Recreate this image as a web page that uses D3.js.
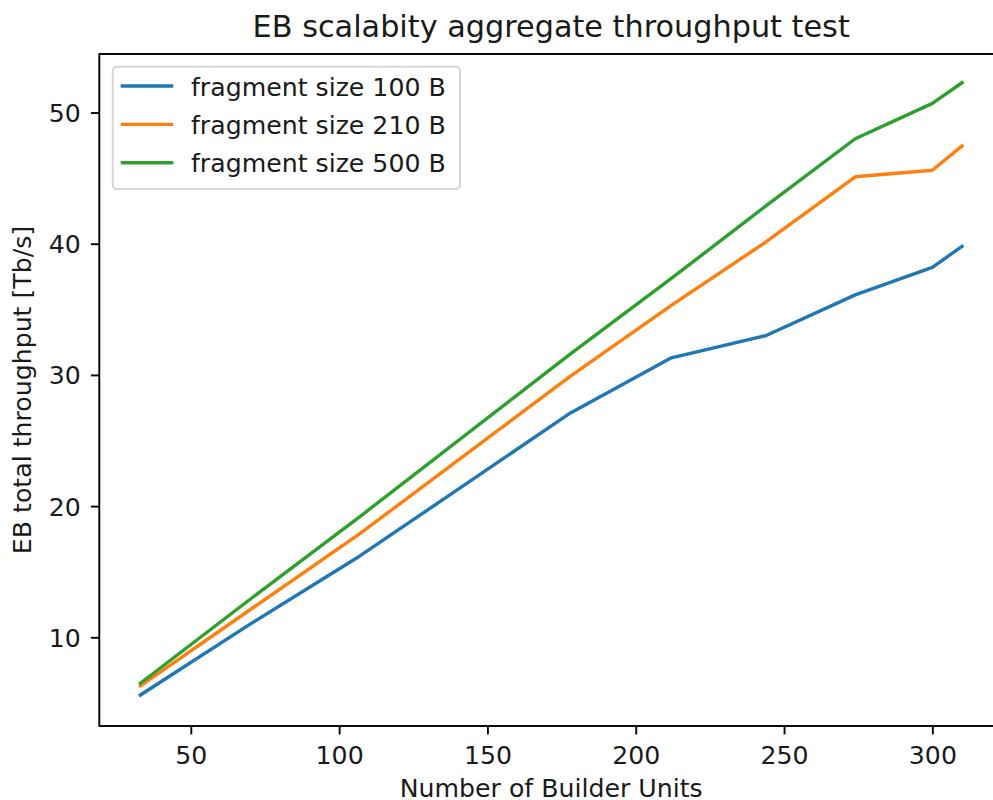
<!DOCTYPE html>
<html>
<head>
<meta charset="utf-8">
<script src="https://cdn.jsdelivr.net/npm/d3@7"></script>
<style>
  html, body { margin: 0; padding: 0; background: #fff; }
  svg { display: block; font-family: "DejaVu Sans", sans-serif; }
</style>
</head>
<body>
<svg id="chart" width="993" height="800"></svg>
<script>
// ---- data ----
const builderUnits = [33, 70, 107, 178, 212, 244, 274, 300, 310];
const frag100 = [5.6, 11.0, 16.2, 27.1, 31.3, 33.0, 36.1, 38.2, 39.8];
const frag210 = [6.3, 12.1, 17.9, 29.9, 35.3, 40.15, 45.1, 45.6, 47.45];
const frag500 = [6.5, 12.9, 19.2, 31.6, 37.35, 42.9, 48.0, 50.7, 52.27];
const seriesNames = ["fragment size 100 B", "fragment size 210 B", "fragment size 500 B"];
const xTicks = [50, 100, 150, 200, 250, 300];
const yTicks = [10, 20, 30, 40, 50];
const titleText = "EB scalabity aggregate throughput test";
const xLabel = "Number of Builder Units";
const yLabel = "EB total throughput [Tb/s]";

const colors = ["#1f77b4", "#ff7f0e", "#2ca02c"];
const series = [frag100, frag210, frag500];

// ---- layout ----
const L = 99.3, R = 1003.1, T = 54, B = 726;
const FS = 25.2;
const svg = d3.select("#chart");

const x = d3.scaleLinear().domain([19.15, 323.85]).range([L, R]);
const y = d3.scaleLinear().domain([3.24, 54.46]).range([B, T]);

// lines
const line = d3.line().x((d, i) => x(builderUnits[i])).y(d => y(d));
series.forEach((s, k) => {
  svg.append("path")
    .attr("d", line(s))
    .attr("fill", "none")
    .attr("stroke", colors[k])
    .attr("stroke-width", 3.4)
    .attr("stroke-linejoin", "round")
    .attr("stroke-linecap", "square");
});

// axes
const xAxis = d3.axisBottom(x).tickValues(xTicks).tickSize(8.4).tickPadding(6).tickFormat(d3.format("d"));
const yAxis = d3.axisLeft(y).tickValues(yTicks).tickSize(8.4).tickPadding(10).tickFormat(d3.format("d"));

const gx = svg.append("g").attr("transform", `translate(0,${B})`).call(xAxis);
const gy = svg.append("g").attr("transform", `translate(${L},0)`).call(yAxis);
[gx, gy].forEach(g => {
  g.select(".domain").remove();
  g.selectAll(".tick line").attr("stroke", "#000").attr("stroke-width", 1.9);
  g.selectAll(".tick text").attr("fill", "#1a1a1a").style("font-size", FS + "px").style("font-family", "DejaVu Sans");
});
gx.selectAll(".tick text").attr("dy", null).attr("y", 0)
  .attr("transform", "translate(0,37.5)");
gy.selectAll(".tick text").attr("dy", "0.36em");

// spines (frame)
svg.append("rect")
  .attr("x", L).attr("y", T).attr("width", R - L).attr("height", B - T)
  .attr("fill", "none").attr("stroke", "#000").attr("stroke-width", 1.9);

// title & labels
svg.append("text").attr("x", (L + R) / 2).attr("y", 37)
  .attr("text-anchor", "middle").attr("fill", "#1a1a1a")
  .style("font-size", "30.3px").text(titleText);
svg.append("text").attr("x", (L + R) / 2).attr("y", 797)
  .attr("text-anchor", "middle").attr("fill", "#1a1a1a")
  .style("font-size", FS + "px").text(xLabel);
svg.append("text").attr("transform", `translate(31,${(T + B) / 2}) rotate(-90)`)
  .attr("text-anchor", "middle").attr("fill", "#1a1a1a")
  .style("font-size", FS + "px").text(yLabel);

// legend
const lg = svg.append("g");
lg.append("rect").attr("x", 112.7).attr("y", 66.7).attr("width", 347.3).attr("height", 122.3)
  .attr("rx", 4).attr("fill", "#fff").attr("fill-opacity", 0.8)
  .attr("stroke", "#d6d6d6").attr("stroke-width", 1.9);
seriesNames.forEach((name, k) => {
  const cy = 86 + k * 38.35;
  lg.append("line").attr("x1", 120.7).attr("x2", 173.3).attr("y1", cy).attr("y2", cy)
    .attr("stroke", colors[k]).attr("stroke-width", 3.4);
  lg.append("text").attr("x", 191).attr("y", cy + 9.5)
    .attr("fill", "#1a1a1a").style("font-size", FS + "px").text(name);
});
</script>
</body>
</html>
